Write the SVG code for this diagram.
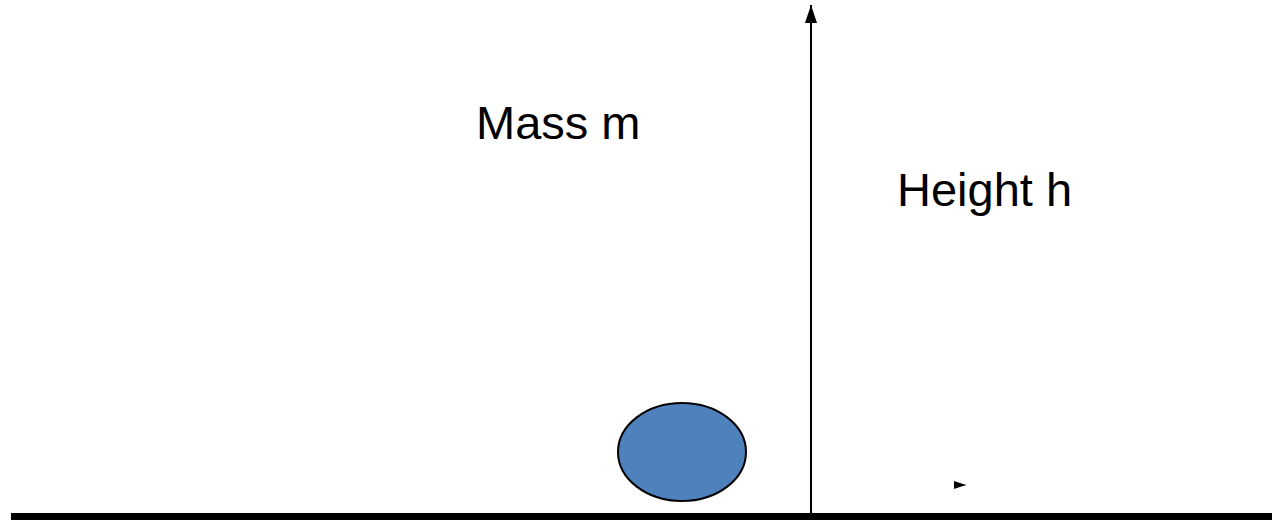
<svg xmlns="http://www.w3.org/2000/svg" width="1272" height="520" viewBox="0 0 1272 520">
<style>
.lbl{font-family:"Liberation Sans",Arial,sans-serif;font-size:47px;fill:#000}
</style>
<defs>
<marker id="ah" markerWidth="12" markerHeight="8" refX="12" refY="4" orient="auto" markerUnits="userSpaceOnUse" viewBox="0 0 12 8">
<path d="M0,0 L12,4 L0,8 Z" fill="#000"/>
</marker>
<marker id="ah2" markerWidth="18" markerHeight="12" refX="18" refY="6" orient="auto" markerUnits="userSpaceOnUse" viewBox="0 0 18 12">
<path d="M0,0 L18,6 L0,12 Z" fill="#000"/>
</marker>
</defs>
<rect width="1272" height="520" fill="#fff"/>
<g id="ground"><rect x="11" y="513" width="1261" height="7" fill="#000"/></g>
<g id="mass"><ellipse cx="682" cy="452" rx="64" ry="49" fill="#4f81bd" stroke="#000" stroke-width="2"/></g>
<g id="connectors">
<line x1="811" y1="513" x2="811" y2="5" stroke="#000" stroke-width="2" marker-end="url(#ah2)"/>
<line x1="954" y1="485" x2="966" y2="485" stroke="#000" stroke-width="0.5" marker-end="url(#ah)"/>
</g>
<g id="label-mass"><text class="lbl" x="476" y="139">Mass m</text></g>
<g id="label-height"><text class="lbl" x="897" y="206">Height h</text></g>
</svg>
